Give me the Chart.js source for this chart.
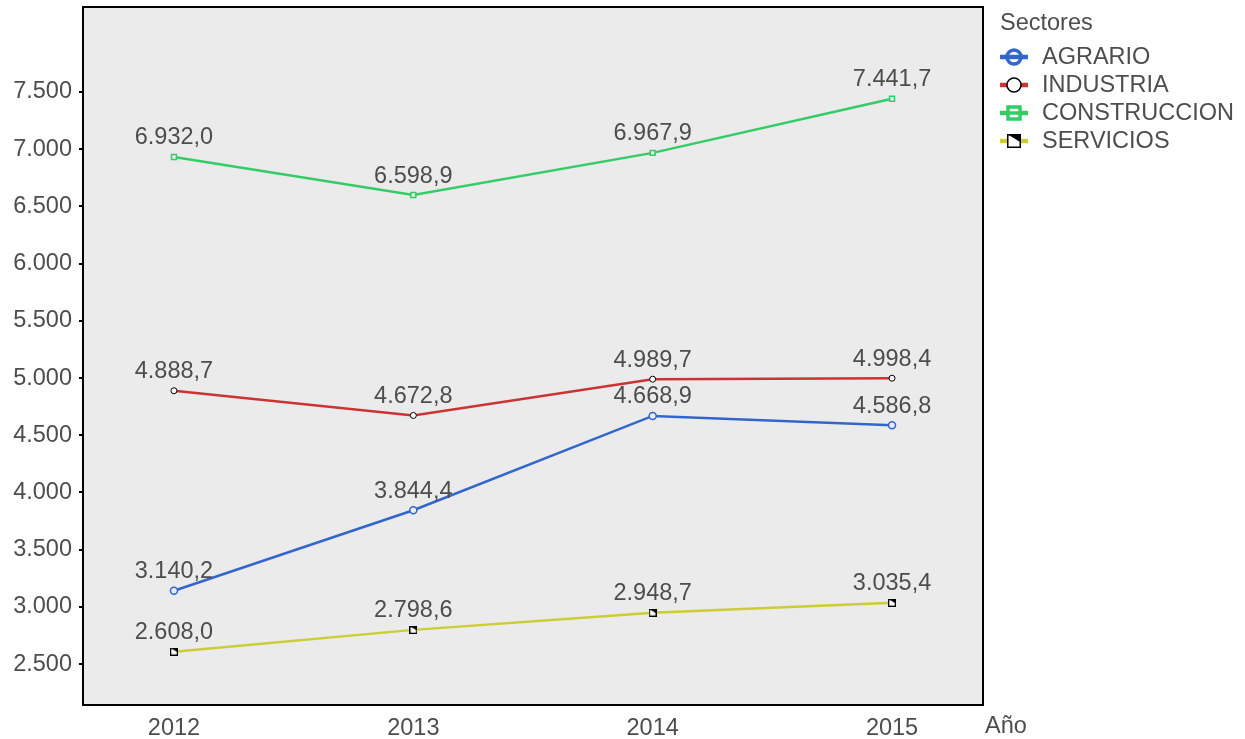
<!DOCTYPE html>
<html><head><meta charset="utf-8">
<script src="https://cdn.jsdelivr.net/npm/chart.js@4"></script>
<style>html,body{margin:0;padding:0;background:#fff}#w{width:1245px;height:739px}</style>
</head><body><div id="w"><canvas id="c"></canvas></div>
<script>
const years = [2012, 2013, 2014, 2015];
const agrario = [3140.2, 3844.4, 4668.9, 4586.8];
const industria = [4888.7, 4672.8, 4989.7, 4998.4];
const construccion = [6932.0, 6598.9, 6967.9, 7441.7];
const servicios = [2608.0, 2798.6, 2948.7, 3035.4];
const yTicks = [2500, 3000, 3500, 4000, 4500, 5000, 5500, 6000, 6500, 7000, 7500];
const seriesNames = ['AGRARIO', 'INDUSTRIA', 'CONSTRUCCION', 'SERVICIOS'];
const legendTitle = 'Sectores';
const xTitle = 'Año';

const FONT = '"Liberation Sans", Arial, sans-serif';
const FS = 23.5;
const TXT = '#4d4d4d';
const colors = ['#3366cc', '#cc3333', '#33cc66', '#cccc33'];

function fmt(v, d) {
  const s = v.toFixed(d);
  let [i, f] = s.split('.');
  i = i.replace(/\B(?=(\d{3})+(?!\d))/g, '.');
  return f ? i + ',' + f : i;
}

function mkServ(size) {
  const c = document.createElement('canvas');
  c.width = size; c.height = size;
  const g = c.getContext('2d');
  g.fillStyle = '#fff'; g.fillRect(0, 0, size, size);
  g.fillStyle = '#000';
  g.beginPath(); g.moveTo(0, 0); g.lineTo(size, 0); g.lineTo(size, size * 0.6); g.closePath(); g.fill();
  g.strokeStyle = '#000'; g.lineWidth = Math.max(1.5, size / 7);
  g.strokeRect(0.5, 0.5, size - 1, size - 1);
  return c;
}
const servPt = mkServ(8);

function pts(arr) { return arr.map((v, i) => ({ x: years[i], y: v })); }

const datasets = [
  { label: seriesNames[0], data: pts(agrario), borderColor: colors[0], backgroundColor: '#ebebeb', pointBorderColor: colors[0], pointStyle: 'circle', pointRadius: 3.5, pointBorderWidth: 1.5 },
  { label: seriesNames[1], data: pts(industria), borderColor: colors[1], backgroundColor: '#fff', pointBorderColor: '#000', pointStyle: 'circle', pointRadius: 3, pointBorderWidth: 1 },
  { label: seriesNames[2], data: pts(construccion), borderColor: colors[2], backgroundColor: '#ebebeb', pointBorderColor: colors[2], pointStyle: 'rect', pointRadius: 3.5, pointBorderWidth: 1.5 },
  { label: seriesNames[3], data: pts(servicios), borderColor: colors[3], backgroundColor: '#fff', pointBorderColor: '#000', pointStyle: servPt, pointRadius: 4 }
].map(d => Object.assign(d, { borderWidth: 2.5, tension: 0, fill: false, pointHoverRadius: d.pointRadius }));

const deco = {
  id: 'deco',
  beforeDraw(chart) {
    const { ctx, chartArea: a } = chart;
    ctx.save();
    ctx.fillStyle = '#ebebeb';
    ctx.fillRect(a.left, a.top, a.right - a.left, a.bottom - a.top);
    ctx.restore();
  },
  afterDatasetsDraw(chart) {
    const { ctx, chartArea: a } = chart;
    ctx.save();
    ctx.font = FS + 'px ' + FONT;
    ctx.fillStyle = TXT;
    ctx.textAlign = 'center';
    ctx.textBaseline = 'middle';
    chart.data.datasets.forEach((ds, i) => {
      chart.getDatasetMeta(i).data.forEach((p, j) => {
        ctx.fillText(fmt(ds.data[j].y, 1), p.x, p.y - 19);
      });
    });
    ctx.strokeStyle = '#000';
    ctx.lineWidth = 2;
    ctx.strokeRect(a.left, a.top, a.right - a.left, a.bottom - a.top);
    ctx.textAlign = 'left';
    ctx.fillText(xTitle, 985, 727);
    ctx.fillText(legendTitle, 1000, 24);
    const ly = [57, 85, 113, 141];
    chart.data.datasets.forEach((ds, i) => {
      const y = ly[i];
      ctx.strokeStyle = colors[i];
      ctx.lineWidth = 4.5;
      ctx.beginPath(); ctx.moveTo(1000, y); ctx.lineTo(1028, y); ctx.stroke();
      const cx = 1014;
      if (i === 0) {
        ctx.lineWidth = 3.5; ctx.strokeStyle = colors[0];
        ctx.beginPath(); ctx.arc(cx, y, 7, 0, Math.PI * 2); ctx.stroke();
      } else if (i === 1) {
        ctx.lineWidth = 1.5; ctx.strokeStyle = '#000'; ctx.fillStyle = '#fff';
        ctx.beginPath(); ctx.arc(cx, y, 7, 0, Math.PI * 2); ctx.fill(); ctx.stroke();
      } else if (i === 2) {
        ctx.lineWidth = 3.5; ctx.strokeStyle = colors[2]; ctx.fillStyle = '#fff';
        ctx.fillRect(cx - 6, y - 6, 12, 12);
        ctx.beginPath(); ctx.moveTo(1000, y); ctx.lineTo(1028, y); ctx.stroke();
        ctx.strokeRect(cx - 6, y - 6, 12, 12);
      } else {
        ctx.drawImage(mkServ(14), cx - 7, y - 7);
      }
      ctx.fillStyle = TXT;
      ctx.fillText(ds.label, 1042, y + 1);
    });
    ctx.restore();
  }
};

new Chart(document.getElementById('c'), {
  type: 'line',
  data: { datasets },
  plugins: [deco],
  options: {
    responsive: true,
    maintainAspectRatio: false,
    animation: false,
    layout: { padding: { top: 7, right: 262, left: 0, bottom: 0 } },
    plugins: { legend: { display: false }, tooltip: { enabled: false } },
    scales: {
      x: {
        type: 'linear',
        min: 2011.62, max: 2015.38,
        afterBuildTicks: s => { s.ticks = years.map(v => ({ value: v })); },
        afterFit: s => { s.height = 34; s.paddingLeft = 0; s.paddingRight = 0; },
        grid: { display: false },
        border: { display: false },
        ticks: { color: TXT, font: { family: FONT, size: FS }, padding: 1, callback: v => String(v) }
      },
      y: {
        min: 2142, max: 8243,
        afterBuildTicks: s => { s.ticks = yTicks.map(v => ({ value: v })); },
        afterFit: s => { s.width = 83; s.paddingTop = 0; s.paddingBottom = 0; },
        grid: { drawOnChartArea: false, drawTicks: true, tickLength: 4, color: '#000', lineWidth: 2 },
        border: { display: false },
        ticks: { color: TXT, font: { family: FONT, size: FS }, padding: 7, callback: v => fmt(v, 0) }
      }
    }
  }
});
</script>
</body></html>
